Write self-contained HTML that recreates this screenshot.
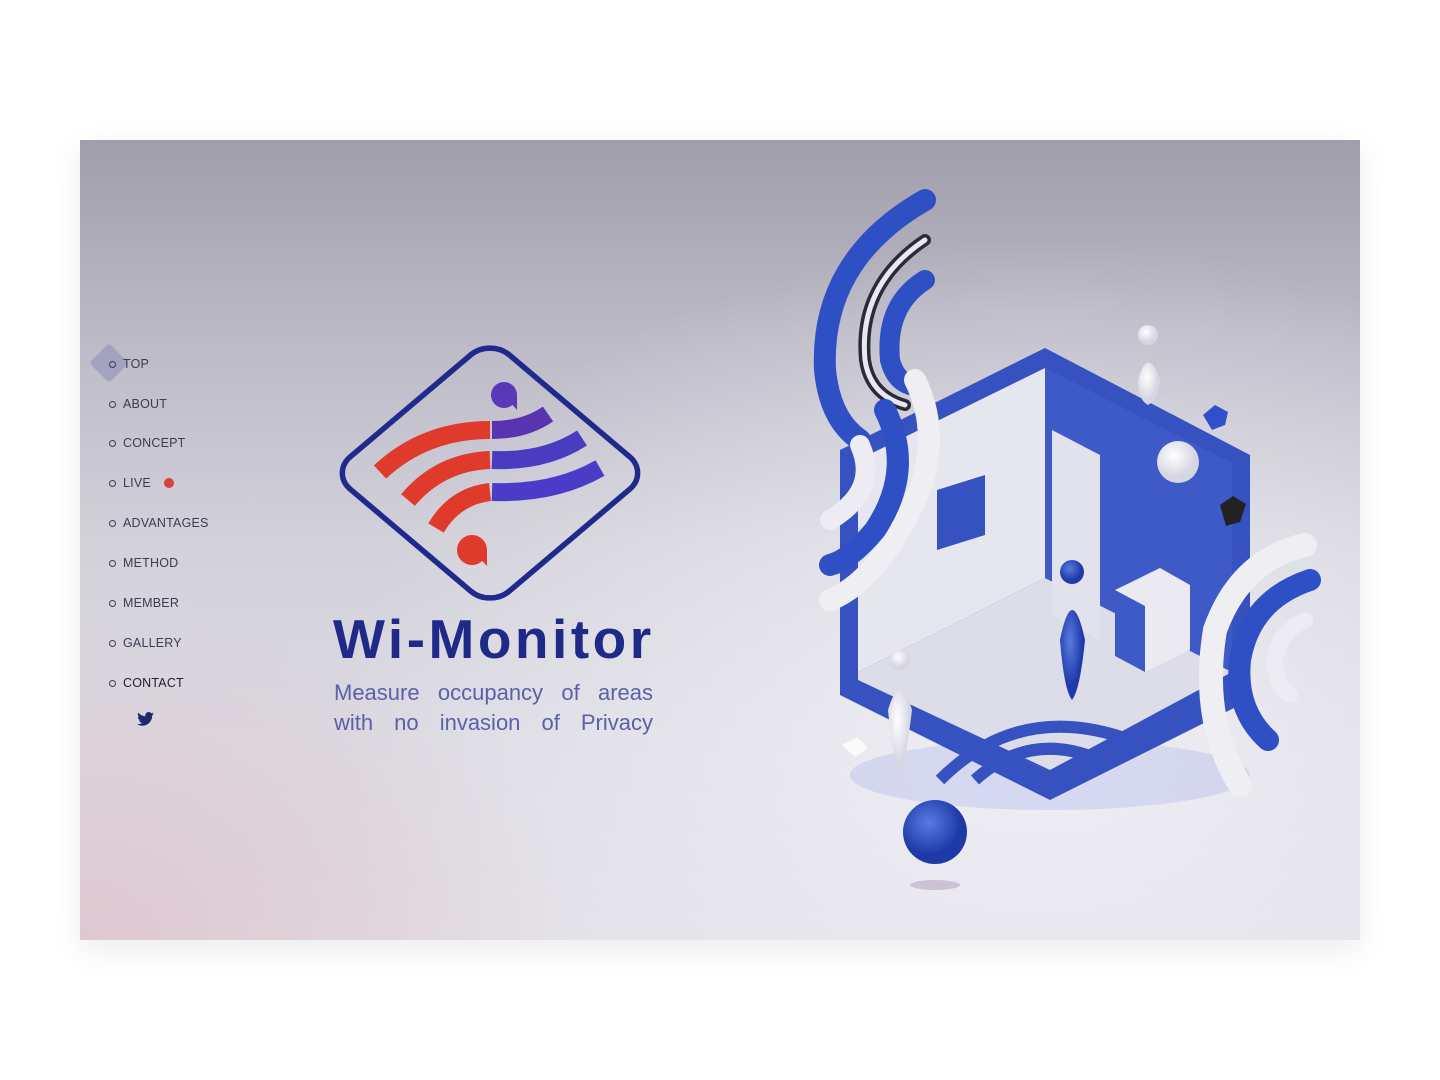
<!DOCTYPE html>
<html><head><meta charset="utf-8"><style>
html,body{margin:0;padding:0;background:#fff;width:1440px;height:1080px;overflow:hidden}
.card{position:absolute;left:80px;top:140px;width:1280px;height:800px;overflow:hidden;
background:
radial-gradient(ellipse 500px 350px at 0% 100%, rgba(222,196,206,0.9), rgba(222,196,206,0) 100%),
radial-gradient(ellipse 700px 500px at 75% 75%, rgba(238,238,244,1), rgba(238,238,244,0) 100%),
linear-gradient(180deg,#a09eaa 0%,#bcbac6 25%,#d2d1da 50%,#dcdbe2 75%,#e2e0e6 100%);
box-shadow:0 10px 30px rgba(0,0,0,0.08)}
.nav{position:absolute;left:0;top:0;font-family:"Liberation Sans",sans-serif;font-size:12.5px;color:#3c3c52;letter-spacing:0.2px}
.nav div{position:absolute;left:43px;white-space:nowrap}
.nav div:before{content:"";position:absolute;left:-14px;top:4px;width:5px;height:5px;border:1.3px solid #3c3c52;border-radius:50%}
.title{position:absolute;left:253px;top:472px;width:340px;font-family:"Liberation Sans",sans-serif;font-weight:bold;font-size:55px;color:#1f2a88;letter-spacing:3.5px;line-height:1}
.sub{position:absolute;left:254px;top:538px;width:319px;font-family:"Liberation Sans",sans-serif;font-size:22px;color:#5a60aa;line-height:30px;text-align:justify;text-align-last:justify;white-space:nowrap}
.sub div{text-align:justify;text-align-last:justify}
</style></head><body>
<div class="card">
<div style="position:absolute;left:15px;top:209px;width:28px;height:28px;background:rgba(140,140,185,0.55);transform:rotate(45deg);border-radius:3px"></div>
<div class="nav">
<div style="top:217px">TOP</div>
<div style="top:257px">ABOUT</div>
<div style="top:296px">CONCEPT</div>
<div style="top:336px">LIVE <span style="display:inline-block;width:10px;height:10px;background:#d8423a;border-radius:50%;margin-left:9px;vertical-align:-1px"></span></div>
<div style="top:376px">ADVANTAGES</div>
<div style="top:416px">METHOD</div>
<div style="top:456px">MEMBER</div>
<div style="top:496px">GALLERY</div>
<div style="top:536px;color:#1e1e30">CONTACT</div>
</div>
<svg style="position:absolute;left:57px;top:572px" width="17" height="14" viewBox="0 0 24 20"><path fill="#1e2a6a" d="M24 2.4c-.9.4-1.8.7-2.8.8 1-.6 1.8-1.6 2.2-2.7-1 .6-2 1-3.1 1.2C19.4.7 18.1 0 16.6 0c-2.7 0-4.9 2.2-4.9 4.9 0 .4 0 .8.1 1.1C7.7 5.8 4.1 3.9 1.7.9c-.4.7-.7 1.6-.7 2.5 0 1.7.9 3.2 2.2 4.1-.8 0-1.600-.2-2.2-.6v.1c0 2.4 1.7 4.4 3.9 4.8-.4.1-.8.2-1.3.2-.3 0-.6 0-.9-.1.6 2 2.4 3.4 4.6 3.4-1.7 1.3-3.8 2.1-6.1 2.1-.4 0-.8 0-1.2-.1C2.2 18.8 4.8 19.6 7.5 19.6c9.1 0 14-7.5 14-14v-.6c1-.7 1.8-1.6 2.5-2.6z"/></svg>

<svg style="position:absolute;left:0;top:0" width="1280" height="800">
<defs>
<radialGradient id="sph" cx="0.4" cy="0.35"><stop offset="0" stop-color="#5a7ae0"/><stop offset="1" stop-color="#1e3aa8"/></radialGradient>
<radialGradient id="wsph" cx="0.4" cy="0.35"><stop offset="0" stop-color="#ffffff"/><stop offset="1" stop-color="#d6d6e2"/></radialGradient>
</defs>
<g transform="translate(-80,-140)">
<g transform="translate(490,473) scale(1.04,0.88) rotate(45)">
<rect x="-108" y="-108" width="216" height="216" rx="26" fill="none" stroke="#1f2a8c" stroke-width="5.5" vector-effect="non-scaling-stroke"/>
</g>
<g fill="none" stroke-linecap="butt" stroke-width="18">
<path d="M380 472 Q425 430 490 430" stroke="#df3a2c"/>
<path d="M408 500 Q440 462 490 460" stroke="#df3a2c"/>
<path d="M436 528 Q455 496 490 492" stroke="#df3a2c"/>
<path d="M492 430 Q525 430 548 414" stroke="#5a34b0"/>
<path d="M492 460 Q545 462 582 438" stroke="#4a3cc0"/>
<path d="M492 492 Q555 494 600 468" stroke="#4a3cc8"/>
</g>
<circle cx="504" cy="395" r="13" fill="#5a38b8"/>
<path d="M504 395 L517 395 L517 410 Z" fill="#5a38b8"/>
<circle cx="472" cy="550" r="15" fill="#df3a2c"/>
<path d="M472 550 L487 550 L487 566 Z" fill="#df3a2c"/>

<ellipse cx="1050" cy="775" rx="200" ry="35" fill="rgba(90,110,230,0.15)"/>
<polygon points="840,450 1045,348 1250,455 1250,700 1050,800 840,695" fill="#3552c0"/>
<polygon points="858,460 1045,368 1045,578 858,672" fill="#e6e6ee"/>
<polygon points="858,672 1045,578 1232,672 1050,770 858,680" fill="#dcdde8"/>
<polygon points="1045,368 1232,463 1232,672 1045,578" fill="#3d5ac6"/>
<polygon points="1052,430 1100,455 1100,640 1052,615" fill="#e2e2ec"/>
<polygon points="937,490 985,475 985,535 937,550" fill="#3552c0"/>
<polygon points="1115,590 1160,568 1190,585 1190,650 1145,672 1115,656" fill="#eaeaf0"/>
<polygon points="1115,590 1145,606 1145,672 1115,656" fill="#3d5ac6"/>
<g fill="none" stroke-width="12">
<path d="M940 780 Q1020 700 1130 740" stroke="#3552c0"/>
<path d="M975 780 Q1030 730 1100 760" stroke="#3552c0"/>
</g>
<circle cx="1072" cy="572" r="12" fill="url(#sph)"/>
<path d="M1060 640 Q1072 580 1085 640 Q1080 690 1072 700 Q1064 690 1060 640Z" fill="url(#sph)"/>
<circle cx="900" cy="660" r="10" fill="url(#wsph)"/>
<path d="M888 710 Q900 670 912 710 Q906 760 900 775 Q893 760 888 710Z" fill="url(#wsph)"/>
<circle cx="1148" cy="335" r="10" fill="url(#wsph)"/>
<path d="M1138 380 Q1148 345 1160 380 Q1158 400 1148 405 Q1138 400 1138 380Z" fill="url(#wsph)"/>
<circle cx="1178" cy="462" r="21" fill="url(#wsph)"/>
<polygon points="1203,415 1215,405 1228,412 1225,425 1212,430" fill="#2f50c8"/>
<polygon points="1220,505 1233,496 1246,504 1240,522 1226,526" fill="#222"/>
<polygon points="842,745 857,737 868,748 855,757" fill="#fafafa"/>
<circle cx="935" cy="832" r="32" fill="url(#sph)"/>
<ellipse cx="935" cy="885" rx="25" ry="5" fill="rgba(120,80,140,0.25)"/>
<g fill="none" stroke-linecap="round">
<path d="M925 200 Q820 260 825 370 Q830 420 860 440" stroke="#2f4fc4" stroke-width="22"/>
<path d="M925 240 Q858 285 865 360 Q870 395 905 405" stroke="#2a2a3a" stroke-width="12"/>
<path d="M925 240 Q858 285 865 360 Q870 395 905 405" stroke="#e8e8ef" stroke-width="5"/>
<path d="M925 280 Q885 305 890 360 Q895 380 910 385" stroke="#2f4fc4" stroke-width="20"/>
<path d="M915 380 Q940 430 920 490 Q880 580 830 600" stroke="#eeeef3" stroke-width="22"/>
<path d="M885 410 Q915 470 875 530 Q850 560 830 565" stroke="#2f4fc4" stroke-width="22"/>
<path d="M860 445 Q880 490 830 520" stroke="#ececf2" stroke-width="20"/>
<path d="M1305 545 Q1240 560 1215 630 Q1200 720 1240 785" stroke="#eeeef3" stroke-width="24"/>
<path d="M1310 580 Q1250 600 1240 660 Q1235 710 1268 740" stroke="#2f4fc4" stroke-width="22"/>
<path d="M1305 620 Q1275 635 1275 665 Q1278 690 1290 695" stroke="#ececf2" stroke-width="16"/>
</g>
</g>
</svg>
<div class="title">Wi-Monitor</div>
<div class="sub"><div>Measure occupancy of areas</div><div>with no invasion of Privacy</div></div>
</div>
</body></html>
